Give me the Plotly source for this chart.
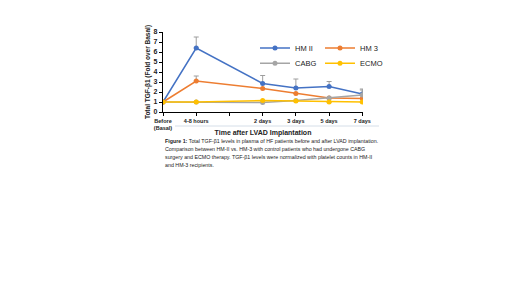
import plotly.graph_objects as go

# ---- data ----
categories = ["Before<br>(Basal)", "4-8 hours", "", "2 days", "3 days", "5 days", "7 days"]
data_idx = [0, 1, 3, 4, 5, 6]  # categories that carry measurements

hm2 = [1.0, 6.4, 2.85, 2.4, 2.55, 1.8]
hm2_err = [0.0, 1.1, 0.8, 0.9, 0.5, 0.5]
hm3 = [1.0, 3.1, 2.35, 1.85, 1.4, 1.35]
hm3_err = [0.0, 0.5, 0.0, 0.0, 0.0, 0.0]
cabg = [1.0, 1.0, 0.95, 1.15, 1.4, 1.7]
cabg_err = [0.0, 0.0, 0.0, 0.0, 0.0, 0.5]
ecmo = [1.0, 1.0, 1.15, 1.1, 1.0, 1.0]
ecmo_err = [0.0, 0.0, 0.0, 0.0, 0.0, 0.0]

y_ticks = [0, 1, 2, 3, 4, 5, 6, 7, 8]

caption_lines = [
    "<b>Figure 1:</b> Total TGF-β1 levels in plasma of HF patients before and after LVAD implantation.",
    "Comparison between HM-II vs. HM-3 with control patients who had undergone CABG",
    "surgery and ECMO therapy. TGF-β1 levels were normalized with platelet counts in HM-II",
    "and HM-3 recipients.",
]

series = [
    ("HM II", hm2, hm2_err, "#4472C4", "legend"),
    ("HM 3", hm3, hm3_err, "#ED7D31", "legend"),
    ("CABG", cabg, cabg_err, "#A5A5A5", "legend2"),
    ("ECMO", ecmo, ecmo_err, "#FFC000", "legend2"),
]

fig = go.Figure()
for name, vals, err, color, leg in series:
    fig.add_trace(go.Scatter(
        x=data_idx, y=vals, name=name, mode="lines+markers",
        line=dict(color=color, width=1.5),
        marker=dict(color=color, size=5, symbol="circle"),
        error_y=dict(type="data", symmetric=False, array=err,
                     arrayminus=[0] * len(err), color="#9E9E9E",
                     thickness=1, width=2.5),
        legend=leg,
    ))

font_family = "Arial, Liberation Sans, sans-serif"
leg_font = dict(size=7.5, color="#222222", family=font_family)

fig.update_layout(
    width=520, height=292,
    margin=dict(l=155, r=165, t=24, b=188),
    paper_bgcolor="white", plot_bgcolor="white",
    font=dict(family=font_family, color="#222222"),
    showlegend=True,
    legend=dict(orientation="h", x=0.46, y=0.80, xanchor="left", yanchor="middle",
                font=leg_font, bgcolor="rgba(0,0,0,0)", itemwidth=30, entrywidth=20,
                tracegroupgap=0),
    legend2=dict(orientation="h", x=0.46, y=0.61, xanchor="left", yanchor="middle",
                 font=leg_font, bgcolor="rgba(0,0,0,0)", itemwidth=30, entrywidth=20,
                 tracegroupgap=0),
    xaxis=dict(
        range=[0, 6.02], tickmode="array",
        tickvals=list(range(len(categories))),
        ticktext=["<b>" + c.replace("<br>", "</b><br><b>") + "</b>" if c else "" for c in categories],
        tickfont=dict(size=5.5, color="#222222"),
        showgrid=False, zeroline=False,
        showline=True, linecolor="black", linewidth=1.2,
        ticks="outside", ticklen=3, tickcolor="black", tickwidth=1,
        title=dict(text="<b>Time after LVAD Implantation</b>", font=dict(size=7, color="#222222"),
                   standoff=0),
    ),
    yaxis=dict(
        range=[0, 8], tickvals=y_ticks,
        ticktext=["<b>%d</b>" % v for v in y_ticks],
        tickfont=dict(size=7, color="#222222"),
        showgrid=False, zeroline=False,
        showline=True, linecolor="black", linewidth=1.2,
        ticks="outside", ticklen=3, tickcolor="black", tickwidth=1,
        title=dict(text="<b>Total TGF-β1 (Fold over Basal)</b>", font=dict(size=6.5, color="#222222"),
                   standoff=2),
    ),
)

# faint separator line under the category labels
fig.add_shape(type="line", xref="paper", yref="paper", x0=0.06, x1=1.08, y0=-0.175, y1=-0.175,
              line=dict(color="#D5DEE8", width=1))

for i, line in enumerate(caption_lines):
    fig.add_annotation(
        text=line, xref="paper", yref="paper", x=0.0, y=-0.36 - i * 0.1,
        xanchor="left", yanchor="middle", align="left", showarrow=False,
        font=dict(size=5.3, color="#222222", family=font_family),
    )

fig.write_html("out.html")
